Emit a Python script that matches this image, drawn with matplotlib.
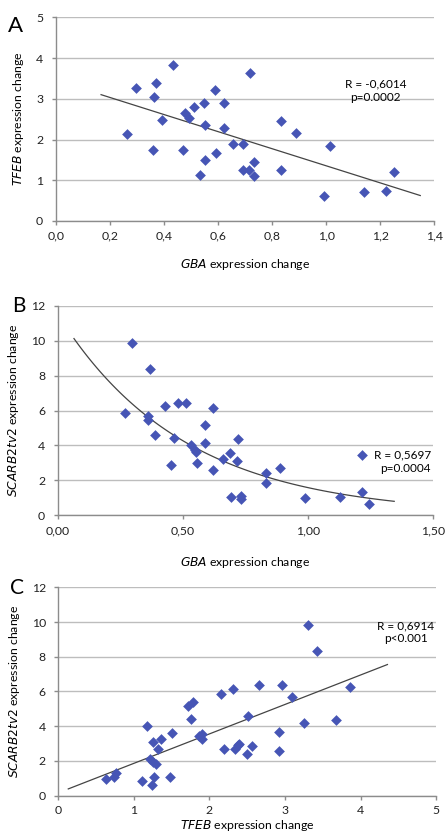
import numpy as np
import matplotlib
matplotlib.use("Agg")
import matplotlib.pyplot as plt

plt.rcParams['font.family'] = ['Lato', 'DejaVu Sans']

# panel A: GBA vs TFEB
gba_a = [0.265, 0.298, 0.362, 0.370, 0.361, 0.394, 0.433, 0.470, 0.479, 0.492,
         0.510, 0.547, 0.535, 0.553, 0.553, 0.590, 0.592, 0.624, 0.621, 0.657,
         0.691, 0.693, 0.715, 0.720, 0.733, 0.733, 0.832, 0.832, 0.889, 0.991,
         1.016, 1.140, 1.221, 1.250]
tfeb_a = [2.13, 3.27, 3.05, 3.38, 1.74, 2.48, 3.82, 1.74, 2.64, 2.53,
          2.81, 2.89, 1.13, 2.36, 1.49, 3.22, 1.67, 2.90, 2.28, 1.88,
          1.89, 1.24, 1.24, 3.64, 1.45, 1.10, 2.45, 1.26, 2.17, 0.61,
          1.83, 0.70, 0.74, 1.20]

# panel B: GBA vs SCARB2tv2
gba_b = [0.268, 0.298, 0.369, 0.360, 0.362, 0.389, 0.430, 0.465, 0.480, 0.512,
         0.453, 0.534, 0.547, 0.554, 0.555, 0.590, 0.590, 0.621, 0.621, 0.659,
         0.689, 0.694, 0.715, 0.719, 0.731, 0.731, 0.831, 0.831, 0.887, 0.988,
         1.127, 1.216, 1.218, 1.245]
scarb_b = [5.84, 9.85, 8.40, 5.69, 5.46, 4.62, 6.26, 4.41, 6.41, 6.41,
           2.86, 4.05, 3.72, 3.63, 3.02, 5.15, 4.16, 6.15, 2.61, 3.23,
           3.55, 1.03, 3.09, 4.37, 1.11, 0.92, 2.44, 1.83, 2.69, 0.97,
           1.07, 3.44, 1.32, 0.67]

# panel C: TFEB vs SCARB2tv2
tfeb_c = [0.631, 0.741, 0.768, 1.112, 1.169, 1.214, 1.249, 1.253, 1.240, 1.266,
          1.289, 1.315, 1.355, 1.474, 1.509, 1.712, 1.778, 1.761, 1.862, 1.906,
          1.898, 2.149, 2.198, 2.317, 2.339, 2.379, 2.392, 2.507, 2.493, 2.568,
          2.657, 2.966, 2.926, 2.926, 3.098, 3.248, 3.310, 3.420, 3.676, 3.857]
scarb_c = [0.96, 1.06, 1.29, 0.86, 4.01, 2.11, 3.11, 1.96, 0.63, 1.08,
           1.82, 2.67, 3.24, 1.08, 3.61, 5.15, 5.41, 4.44, 3.44, 3.53,
           3.24, 5.84, 2.69, 6.13, 2.69, 2.90, 3.00, 4.61, 2.40, 2.86,
           6.39, 6.39, 3.69, 2.59, 5.70, 4.17, 9.85, 8.35, 4.36, 6.24]

blue = '#4655B5'
grid_c = '#BDBDBD'
axis_c = '#8C8C8C'
tick_fs = 8.8
label_fs = 8.8
note_fs = 8.5


def style_axis(ax, xlim, xticks, xfmt, ylim, yticks):
    ax.set_xlim(*xlim)
    ax.set_ylim(*ylim)
    ax.set_xticks(xticks)
    ax.set_xticklabels([xfmt(t) for t in xticks])
    ax.set_yticks(yticks)
    ax.yaxis.grid(True, color=grid_c, linewidth=1)
    ax.set_axisbelow(True)
    for s in ['top', 'right']:
        ax.spines[s].set_visible(False)
    for s in ['left', 'bottom']:
        ax.spines[s].set_color(axis_c)
        ax.spines[s].set_linewidth(1)
    ax.tick_params(axis='both', colors=axis_c, labelcolor='#222222',
                   labelsize=tick_fs, length=3, width=1, direction='out')
    ax.tick_params(axis='y', pad=6)
    ax.tick_params(axis='x', pad=4)


def comma(v, nd):
    return f"{v:.{nd}f}".replace('.', ',')


fig = plt.figure(figsize=(4.45, 8.33), dpi=100)

# A
ax = fig.add_axes([0.125, 0.7347, 0.851, 0.2445])
ax.scatter(gba_a, tfeb_a, marker='D', s=30, color=blue, linewidths=0, zorder=3)
k, b = np.polyfit(gba_a, tfeb_a, 1)
xl = np.array([0.168, 1.348])
ax.plot(xl, k * xl + b, color='#444444', linewidth=0.9, zorder=2)
style_axis(ax, (0, 1.4), np.arange(0, 1.41, 0.2), lambda t: comma(t, 1),
           (0, 5), range(0, 6))
ax.set_xlabel(r'$\it{GBA}$ expression change', fontsize=label_fs, labelpad=11)
ax.set_ylabel(r'$\it{TFEB}$ expression change', fontsize=label_fs, labelpad=7)
ax.text(0.845, 0.64, 'R = -0,6014\np=0.0002', transform=ax.transAxes,
        ha='center', va='center', fontsize=note_fs, linespacing=1.25)
fig.text(0.018, 0.969, 'A', fontsize=16, va='center', ha='left')

# B
ax = fig.add_axes([0.1297, 0.3814, 0.8433, 0.2516])
ax.scatter(gba_b, scarb_b, marker='D', s=30, color=blue, linewidths=0, zorder=3)
k, b = np.polyfit(gba_b, np.log(scarb_b), 1)
xc = np.linspace(0.065, 1.345, 100)
ax.plot(xc, np.exp(b) * np.exp(k * xc), color='#444444', linewidth=0.9, zorder=2)
style_axis(ax, (0, 1.5), [0, 0.5, 1.0, 1.5], lambda t: comma(t, 2),
           (0, 12), range(0, 13, 2))
ax.set_xlabel(r'$\it{GBA}$ expression change', fontsize=label_fs, labelpad=14)
ax.set_ylabel(r'$\it{SCARB2tv2}$ expression change', fontsize=label_fs, labelpad=7)
ax.text(0.995, 0.255, 'R = 0,5697\np=0.0004', transform=ax.transAxes,
        ha='right', va='center', fontsize=note_fs, linespacing=1.25)
fig.text(0.027, 0.633, 'B', fontsize=15, va='center', ha='left')

# C
ax = fig.add_axes([0.131, 0.0448, 0.849, 0.2502])
ax.scatter(tfeb_c, scarb_c, marker='D', s=30, color=blue, linewidths=0, zorder=3)
k, b = np.polyfit(tfeb_c, scarb_c, 1)
xl = np.array([0.132, 4.356])
ax.plot(xl, k * xl + b, color='#444444', linewidth=0.9, zorder=2)
style_axis(ax, (0, 5), range(0, 6), lambda t: str(t),
           (0, 12), range(0, 13, 2))
ax.set_xlabel(r'$\it{TFEB}$ expression change', fontsize=label_fs, labelpad=1)
ax.set_ylabel(r'$\it{SCARB2tv2}$ expression change', fontsize=label_fs, labelpad=7)
ax.text(0.92, 0.785, 'R = 0,6914\np<0.001', transform=ax.transAxes,
        ha='center', va='center', fontsize=note_fs, linespacing=1.25)
fig.text(0.022, 0.2947, 'C', fontsize=15, va='center', ha='left')

fig.savefig('out.png', dpi=100)
